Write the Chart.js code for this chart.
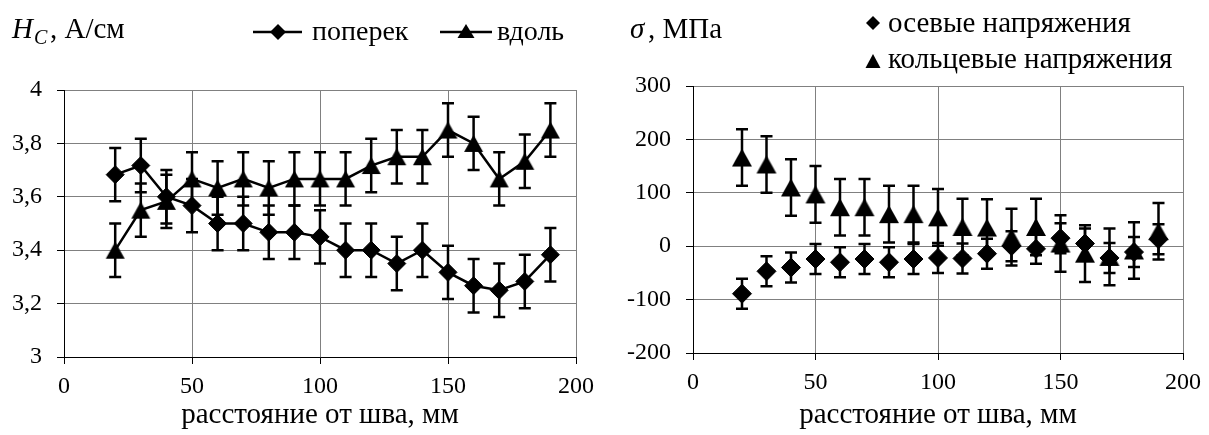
<!DOCTYPE html>
<html>
<head>
<meta charset="utf-8">
<script src="https://cdn.jsdelivr.net/npm/chart.js@4.4.1/dist/chart.umd.min.js"></script>
<style>
html,body{margin:0;padding:0;background:#fff}
#wrap{position:relative;width:1209px;height:435px;overflow:hidden;background:#fff}
canvas{position:absolute;top:0}
</style>
</head>
<body>
<div id="wrap">
<canvas id="left" width="604" height="435" style="left:0"></canvas>
<canvas id="right" width="605" height="435" style="left:604px"></canvas>
</div>
<script>
// ---- data ----
const distances = [20, 30, 40, 50, 60, 70, 80, 90, 100, 110, 120, 130, 140, 150, 160, 170, 180, 190];

// left panel: coercive force Hc, A/cm
const hcAcross    = [3.683, 3.717, 3.600, 3.567, 3.500, 3.500, 3.467, 3.467, 3.450, 3.400, 3.400, 3.350, 3.400, 3.317, 3.267, 3.250, 3.283, 3.383];
const hcAcrossErr = [0.1, 0.1, 0.1, 0.1, 0.1, 0.1, 0.1, 0.1, 0.1, 0.1, 0.1, 0.1, 0.1, 0.1, 0.1, 0.1, 0.1, 0.1];
const hcAlong     = [3.400, 3.550, 3.583, 3.667, 3.633, 3.667, 3.633, 3.667, 3.667, 3.667, 3.717, 3.750, 3.750, 3.850, 3.800, 3.667, 3.733, 3.850];
const hcAlongErr  = [0.1, 0.1, 0.1, 0.1, 0.1, 0.1, 0.1, 0.1, 0.1, 0.1, 0.1, 0.1, 0.1, 0.1, 0.1, 0.1, 0.1, 0.1];

// right panel: stresses, MPa
const sigmaAxial    = [-89, -47, -40, -24, -30, -24, -30, -24, -22, -23, -14, 0, -5, 15, 5, -22, -11, 13];
const sigmaAxialErr = [28, 28, 28, 28, 28, 28, 28, 28, 28, 28, 28, 28, 28, 28, 28, 28, 28, 28];
const sigmaHoop     = [166, 153, 110, 97, 73, 73, 60, 60, 54, 36, 35, 17, 36, 5, -14, -20, -8, 28];
const sigmaHoopErr  = [53, 53, 53, 53, 53, 53, 53, 53, 53, 53, 53, 53, 53, 53, 53, 53, 53, 53];

// ticks
const xTicks = [0, 50, 100, 150, 200];
const xTickLabels = ['0', '50', '100', '150', '200'];
const hcTicks = [3, 3.2, 3.4, 3.6, 3.8, 4];
const hcTickLabels = ['3', '3,2', '3,4', '3,6', '3,8', '4'];
const sigmaTicks = [-200, -100, 0, 100, 200, 300];
const sigmaTickLabels = ['-200', '-100', '0', '100', '200', '300'];

// texts
const xTitle = 'расстояние от шва, мм';
const seriesLeft = ['поперек', 'вдоль'];
const seriesRight = ['осевые напряжения', 'кольцевые напряжения'];

// ---- drawing helpers ----
const FONT = "'Liberation Serif'";
const pts = (xs, ys) => xs.map((x, i) => ({x: x, y: ys[i]}));

// triangle marker centred on its bounding box (as in the original)
function triImg(w, h) {
  const c = document.createElement('canvas');
  c.width = w + 2; c.height = h + 2;
  const g = c.getContext('2d');
  g.fillStyle = '#000';
  g.beginPath();
  g.moveTo(1 + w / 2, 1); g.lineTo(1 + w, 1 + h); g.lineTo(1, 1 + h);
  g.closePath(); g.fill();
  return c;
}

const errorBars = {
  id: 'errorBars',
  beforeDatasetsDraw(chart) {
    const ctx = chart.ctx, xs = chart.scales.x, ys = chart.scales.y;
    const cap = 6;
    ctx.save();
    ctx.strokeStyle = '#000';
    ctx.lineWidth = 2.5;
    ctx.lineCap = 'butt';
    chart.data.datasets.forEach(ds => {
      if (!ds.errors) return;
      ds.data.forEach((p, j) => {
        const e = ds.errors[j];
        const x = xs.getPixelForValue(p.x);
        const yt = ys.getPixelForValue(p.y + e);
        const yb = ys.getPixelForValue(p.y - e);
        ctx.beginPath();
        ctx.moveTo(x, yt); ctx.lineTo(x, yb);
        ctx.moveTo(x - cap, yt); ctx.lineTo(x + cap, yt);
        ctx.moveTo(x - cap, yb); ctx.lineTo(x + cap, yb);
        ctx.stroke();
      });
    });
    ctx.restore();
  }
};

function diamond(ctx, x, y, r) {
  ctx.beginPath();
  ctx.moveTo(x - r, y); ctx.lineTo(x, y - r); ctx.lineTo(x + r, y); ctx.lineTo(x, y + r);
  ctx.closePath(); ctx.fill();
}
function triangle(ctx, x, y, w, h) {
  ctx.beginPath();
  ctx.moveTo(x, y - h / 2);
  ctx.lineTo(x + w / 2, y + h / 2);
  ctx.lineTo(x - w / 2, y + h / 2);
  ctx.closePath(); ctx.fill();
}

const headerLeft = {
  id: 'headerLeft',
  afterDraw(chart) {
    const ctx = chart.ctx;
    ctx.save();
    ctx.fillStyle = '#000'; ctx.strokeStyle = '#000';
    ctx.textAlign = 'left'; ctx.textBaseline = 'alphabetic';
    ctx.font = 'italic 29px ' + FONT; ctx.fillText('H', 12, 38);
    ctx.font = 'italic 20px ' + FONT; ctx.fillText('C', 34, 44);
    ctx.font = '29px ' + FONT; ctx.fillText(', А/см', 50, 38);
    // legend
    ctx.lineWidth = 2.5;
    ctx.beginPath(); ctx.moveTo(253, 32); ctx.lineTo(302, 32); ctx.stroke();
    diamond(ctx, 278, 32, 8);
    ctx.beginPath(); ctx.moveTo(440, 32); ctx.lineTo(492, 32); ctx.stroke();
    triangle(ctx, 466, 31, 17, 14);
    ctx.font = '28px ' + FONT;
    ctx.fillText(seriesLeft[0], 312, 40);
    ctx.fillText(seriesLeft[1], 497, 40);
    ctx.restore();
  }
};

const headerRight = {
  id: 'headerRight',
  afterDraw(chart) {
    const ctx = chart.ctx;
    ctx.save();
    ctx.fillStyle = '#000';
    ctx.textAlign = 'left'; ctx.textBaseline = 'alphabetic';
    ctx.font = 'italic 29px ' + FONT; ctx.fillText('σ', 26, 38);
    ctx.font = '29px ' + FONT; ctx.fillText(', МПа', 44, 38);
    diamond(ctx, 269, 23, 7);
    triangle(ctx, 269, 61, 15, 14);
    ctx.font = '29px ' + FONT;
    ctx.fillText(seriesRight[0], 284, 32);
    ctx.fillText(seriesRight[1], 284, 68);
    ctx.restore();
  }
};

function xScale(height) {
  return {
    type: 'linear', min: 0, max: 200,
    afterBuildTicks: s => { s.ticks = xTicks.map(v => ({value: v})); },
    afterFit: s => { s.height = height; },
    ticks: {
      callback: (v, i) => xTickLabels[i],
      font: {family: FONT, size: 24}, color: '#000', padding: 8,
      maxRotation: 0, autoSkip: false
    },
    grid: {color: '#808080', lineWidth: 1, tickLength: 7, tickColor: '#000', tickWidth: 1},
    border: {color: '#000', width: 1},
    title: {display: true, text: xTitle, color: '#000', font: {family: FONT, size: 29}, padding: {top: 0, bottom: 2}}
  };
}
function yScale(min, max, ticks, labels, width) {
  return {
    type: 'linear', min: min, max: max,
    afterBuildTicks: s => { s.ticks = ticks.map(v => ({value: v})); },
    afterFit: s => { s.width = width; },
    ticks: {
      callback: (v, i) => labels[i],
      font: {family: FONT, size: 24}, color: '#000', padding: 15, autoSkip: false
    },
    grid: {color: '#808080', lineWidth: 1, tickLength: 7, tickColor: '#000', tickWidth: 1},
    border: {color: '#000', width: 1}
  };
}

function build() {
  Chart.defaults.font.family = FONT;
  const common = {
    responsive: false, animation: false, devicePixelRatio: 1,
    plugins: {legend: {display: false}, tooltip: {enabled: false}},
    elements: {line: {tension: 0}}
  };
  const triLeft = triImg(19, 17);
  const triRight = triImg(20, 18);

  new Chart(document.getElementById('left'), {
    type: 'line',
    data: {
      datasets: [
        {label: seriesLeft[0], data: pts(distances, hcAcross), errors: hcAcrossErr,
         borderColor: '#000', backgroundColor: '#000', borderWidth: 2.5,
         pointStyle: 'rectRot', pointRadius: 9, pointBorderWidth: 1, pointBackgroundColor: '#000', pointBorderColor: '#000'},
        {label: seriesLeft[1], data: pts(distances, hcAlong), errors: hcAlongErr,
         borderColor: '#000', backgroundColor: '#000', borderWidth: 2.5,
         pointStyle: triLeft, pointRadius: 10, pointBorderWidth: 1, pointBackgroundColor: '#000', pointBorderColor: '#000'}
      ]
    },
    options: Object.assign({}, common, {
      layout: {padding: {left: 0, right: 28, top: 90, bottom: 0}},
      scales: {x: xScale(78), y: yScale(3, 4, hcTicks, hcTickLabels, 64)}
    }),
    plugins: [errorBars, headerLeft]
  });

  new Chart(document.getElementById('right'), {
    type: 'line',
    data: {
      datasets: [
        {label: seriesRight[0], data: pts(distances, sigmaAxial), errors: sigmaAxialErr, showLine: false,
         borderColor: '#000', backgroundColor: '#000',
         pointStyle: 'rectRot', pointRadius: 9.5, pointBorderWidth: 1, pointBackgroundColor: '#000', pointBorderColor: '#000'},
        {label: seriesRight[1], data: pts(distances, sigmaHoop), errors: sigmaHoopErr, showLine: false,
         borderColor: '#000', backgroundColor: '#000',
         pointStyle: triRight, pointRadius: 10, pointBorderWidth: 1, pointBackgroundColor: '#000', pointBorderColor: '#000'}
      ]
    },
    options: Object.assign({}, common, {
      layout: {padding: {left: 0, right: 20, top: 86, bottom: 0}},
      scales: {x: xScale(82), y: yScale(-200, 300, sigmaTicks, sigmaTickLabels, 89)}
    }),
    plugins: [errorBars, headerRight]
  });
}

const loads = ['24px', '28px', '29px', 'italic 29px', 'italic 20px'].map(s => document.fonts.load(s + " 'Liberation Serif'", '0Hσрасстояние'));
Promise.all(loads).then(build, build);
</script>
</body>
</html>
